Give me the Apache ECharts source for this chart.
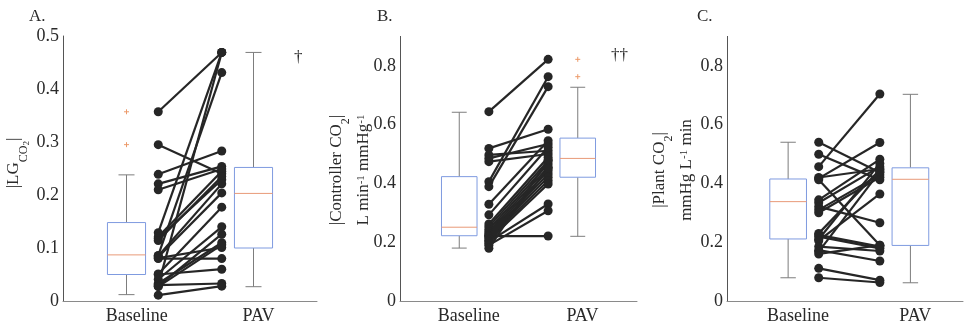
<!DOCTYPE html>
<html>
<head>
<meta charset="utf-8">
<script src="https://cdn.jsdelivr.net/npm/echarts@6/dist/echarts.min.js"></script>
<style>html,body{margin:0;padding:0;background:#fff}#c{width:964px;height:327px}</style>
</head>
<body>
<div id="c"></div>
<script>
// ---- data ----
const categories = ['Baseline', 'PAV'];
const yTicksA = [0, 0.1, 0.2, 0.3, 0.4, 0.5];
const yTicksBC = [0, 0.2, 0.4, 0.6, 0.8];

// Panel A: |LG CO2|
const baselineA = [0.357, 0.295, 0.239, 0.221, 0.210, 0.129, 0.121, 0.118, 0.114, 0.086, 0.085, 0.083, 0.081, 0.080, 0.051, 0.050, 0.041, 0.033, 0.030, 0.030, 0.028, 0.027, 0.011];
const pavA      = [0.469, 0.240, 0.283, 0.254, 0.249, 0.469, 0.245, 0.229, 0.235, 0.431, 0.221, 0.204, 0.101, 0.080, 0.177, 0.060, 0.140, 0.110, 0.469, 0.033, 0.126, 0.106, 0.028];
const boxA_baseline = [0.012, 0.050, 0.087, 0.148, 0.238];
const boxA_pav      = [0.027, 0.100, 0.203, 0.252, 0.469];
const outliersA_baseline = [0.357, 0.295];
const outliersA_pav = [];

// Panel B: |Controller CO2|
const baselineB = [0.644, 0.519, 0.497, 0.485, 0.474, 0.406, 0.389, 0.329, 0.293, 0.262, 0.253, 0.244, 0.236, 0.230, 0.224, 0.221, 0.219, 0.213, 0.207, 0.202, 0.196, 0.190, 0.179];
const pavB      = [0.822, 0.584, 0.511, 0.534, 0.500, 0.763, 0.729, 0.545, 0.523, 0.489, 0.477, 0.466, 0.455, 0.443, 0.432, 0.221, 0.421, 0.409, 0.398, 0.330, 0.452, 0.307, 0.480];
const boxB_baseline = [0.180, 0.222, 0.251, 0.423, 0.642];
const boxB_pav      = [0.220, 0.421, 0.485, 0.554, 0.727];
const outliersB_baseline = [];
const outliersB_pav = [0.822, 0.763];

// Panel C: |Plant CO2|
const baselineC = [0.540, 0.499, 0.457, 0.420, 0.417, 0.412, 0.344, 0.334, 0.321, 0.310, 0.300, 0.230, 0.225, 0.219, 0.210, 0.205, 0.185, 0.173, 0.168, 0.160, 0.111, 0.079];
const pavC      = [0.437, 0.412, 0.704, 0.449, 0.539, 0.190, 0.482, 0.457, 0.266, 0.429, 0.421, 0.446, 0.185, 0.179, 0.468, 0.364, 0.170, 0.136, 0.440, 0.190, 0.071, 0.063];
const boxC_baseline = [0.079, 0.211, 0.338, 0.415, 0.540];
const boxC_pav      = [0.062, 0.189, 0.414, 0.453, 0.703];
const outliersC_baseline = [];
const outliersC_pav = [];

// ---- layout / style ----
const X_BOX = [1, 2];
const X_DOT = [1.25, 1.75];
const BOX_W = 0.3;
const SERIF = 'Liberation Serif';
const TXT = '#2a2a2a';

const chart = echarts.init(document.getElementById('c'), null, {renderer: 'canvas'});

const grids = [
  {left: 63, top: 36, width: 254, height: 265},
  {left: 400, top: 36.4, width: 237, height: 264.6},
  {left: 727, top: 36.4, width: 236, height: 264.6}
];
const xMax = [2.5, 2.5, 2.43];
const yMax = [0.5, 0.9, 0.9];
const yTicks = [yTicksA, yTicksBC, yTicksBC];

const richBase = {
  b: {fontFamily: SERIF, fontSize: 17, color: TXT, lineHeight: 27, verticalAlign: 'top'},
  s: {fontFamily: SERIF, fontSize: 12, color: TXT, lineHeight: 12, padding: [12, 0, 0, 0], verticalAlign: 'top'},
  ss: {fontFamily: SERIF, fontSize: 9, color: TXT, lineHeight: 9, padding: [17, 0, 0, 0], verticalAlign: 'top'},
  sup: {fontFamily: SERIF, fontSize: 11, color: TXT, lineHeight: 11, padding: [1, 0, 0, 0], verticalAlign: 'top'}
};
const labelRich = {t: {fontFamily: SERIF, fontSize: 18, color: TXT}};
const yNames = [
  '{b||LG}{s|CO}{ss|2}{b||}',
  '{b||Controller CO}{s|2}{b||}\n{b|L min}{sup|-1}{b| mmHg}{sup|-1}',
  '{b||Plant CO}{s|2}{b||}\n{b|mmHg L}{sup|-1}{b| min}'
];
const yNamePos = [[19, 163], [355, 170], [678, 170]];

function pairSeries(idx, base, pav) {
  return {
    type: 'custom', xAxisIndex: idx, yAxisIndex: idx, z: 5,
    data: base.map((b, i) => [b, pav[i]]),
    renderItem: function (params, api) {
      const p1 = api.coord([X_DOT[0], api.value(0)]);
      const p2 = api.coord([X_DOT[1], api.value(1)]);
      return {
        type: 'group',
        children: [
          {type: 'line', shape: {x1: p1[0], y1: p1[1], x2: p2[0], y2: p2[1]}, style: {stroke: '#262626', lineWidth: 2.2}},
          {type: 'circle', shape: {cx: p1[0], cy: p1[1], r: 4.5}, style: {fill: '#262626'}},
          {type: 'circle', shape: {cx: p2[0], cy: p2[1], r: 4.5}, style: {fill: '#262626'}}
        ]
      };
    }
  };
}

function boxSeries(idx, boxes) {
  return {
    type: 'custom', xAxisIndex: idx, yAxisIndex: idx, z: 3,
    data: boxes.map((b, i) => [X_BOX[i]].concat(b)),
    renderItem: function (params, api) {
      const x = api.value(0);
      const lo = api.coord([x, api.value(1)]);
      const q1 = api.coord([x, api.value(2)]);
      const md = api.coord([x, api.value(3)]);
      const q3 = api.coord([x, api.value(4)]);
      const hi = api.coord([x, api.value(5)]);
      const l = api.coord([x - BOX_W / 2, 0])[0];
      const r = api.coord([x + BOX_W / 2, 0])[0];
      const cl = api.coord([x - BOX_W * 0.21, 0])[0];
      const cr = api.coord([x + BOX_W * 0.21, 0])[0];
      const grey = {stroke: '#7d7d7d', lineWidth: 1};
      return {
        type: 'group',
        children: [
          {type: 'line', shape: {x1: lo[0], y1: lo[1], x2: lo[0], y2: q1[1]}, style: grey},
          {type: 'line', shape: {x1: hi[0], y1: hi[1], x2: hi[0], y2: q3[1]}, style: grey},
          {type: 'line', shape: {x1: cl, y1: lo[1], x2: cr, y2: lo[1]}, style: grey},
          {type: 'line', shape: {x1: cl, y1: hi[1], x2: cr, y2: hi[1]}, style: grey},
          {type: 'rect', shape: {x: l, y: q3[1], width: r - l, height: q1[1] - q3[1]}, style: {fill: '#fff', stroke: '#7f9be0', lineWidth: 1}},
          {type: 'line', shape: {x1: l, y1: md[1], x2: r, y2: md[1]}, style: {stroke: '#e89a78', lineWidth: 1}}
        ]
      };
    }
  };
}

function outlierSeries(idx, ob, op) {
  const data = ob.map(v => [X_BOX[0], v]).concat(op.map(v => [X_BOX[1], v]));
  return {
    type: 'custom', xAxisIndex: idx, yAxisIndex: idx, z: 4,
    data: data,
    renderItem: function (params, api) {
      const p = api.coord([api.value(0), api.value(1)]);
      const st = {stroke: '#ec9a6a', lineWidth: 1};
      return {
        type: 'group',
        children: [
          {type: 'line', shape: {x1: p[0] - 2.5, y1: p[1], x2: p[0] + 2.5, y2: p[1]}, style: st},
          {type: 'line', shape: {x1: p[0], y1: p[1] - 2.5, x2: p[0], y2: p[1] + 2.5}, style: st}
        ]
      };
    }
  };
}

const xAxes = grids.map((g, i) => ({
  type: 'value', gridIndex: i, min: 0.5, max: xMax[i],
  splitLine: {show: false},
  axisLine: {show: true, lineStyle: {color: '#8a8a8a', width: 1}},
  axisTick: {show: false},
  axisLabel: {
    customValues: [1.08, 2.04],
    formatter: v => '{t|' + (v < 1.5 ? categories[0] : categories[1]) + '}',
    rich: labelRich,
    fontFamily: SERIF, fontSize: 18, color: TXT, margin: 6
  }
}));
const yAxes = grids.map((g, i) => ({
  type: 'value', gridIndex: i, min: 0, max: yMax[i],
  splitLine: {show: false},
  axisLine: {show: true, lineStyle: {color: '#555', width: 1}},
  axisTick: {show: false},
  axisLabel: {
    customValues: yTicks[i],
    formatter: v => '{t|' + String(v) + '}',
    rich: labelRich,
    fontFamily: SERIF, fontSize: 18, color: TXT, margin: 4
  }
}));

const titleStyle = {fontFamily: SERIF, fontSize: 17, fontWeight: 'normal', color: TXT};
const option = {
  animation: false,
  backgroundColor: '#fff',
  textStyle: {fontFamily: SERIF},
  title: [
    {text: 'A.', left: 24, top: 3, textStyle: titleStyle},
    {text: 'B.', left: 372, top: 3, textStyle: titleStyle},
    {text: 'C.', left: 692, top: 3, textStyle: titleStyle},
    {text: '†', left: 289, top: 44, textStyle: titleStyle},
    {text: '††', left: 606, top: 42, textStyle: titleStyle}
  ],
  graphic: yNames.map((t, i) => ({
    type: 'text', x: yNamePos[i][0], y: yNamePos[i][1], rotation: Math.PI / 2,
    style: {text: t, rich: richBase, align: 'center', verticalAlign: 'middle', fontFamily: SERIF, fontSize: 17, fill: TXT, lineHeight: 27}
  })),
  grid: grids,
  xAxis: xAxes,
  yAxis: yAxes,
  series: [
    boxSeries(0, [boxA_baseline, boxA_pav]),
    outlierSeries(0, outliersA_baseline, outliersA_pav),
    pairSeries(0, baselineA, pavA),
    boxSeries(1, [boxB_baseline, boxB_pav]),
    outlierSeries(1, outliersB_baseline, outliersB_pav),
    pairSeries(1, baselineB, pavB),
    boxSeries(2, [boxC_baseline, boxC_pav]),
    outlierSeries(2, outliersC_baseline, outliersC_pav),
    pairSeries(2, baselineC, pavC)
  ]
};
chart.setOption(option);
</script>
</body>
</html>
